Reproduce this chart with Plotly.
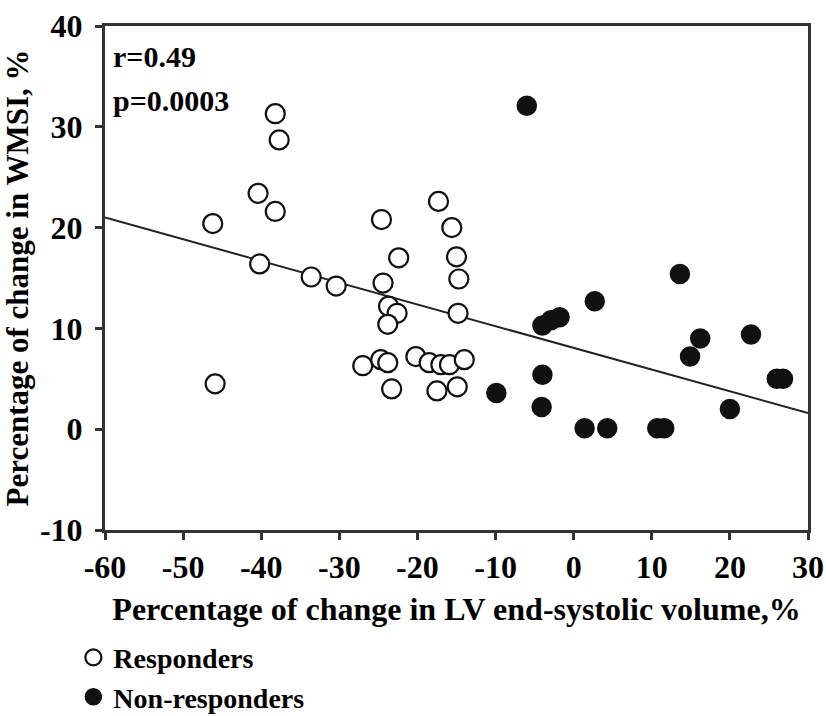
import plotly.graph_objects as go

# Responders (open circles)
resp_x = [-38.2, -37.7, -40.4, -38.2, -46.2, -40.2, -33.6, -30.4, -24.6, -22.4,
          -24.4, -23.7, -22.6, -23.8, -17.3, -15.6, -15.0, -14.7, -14.8, -45.9,
          -27.0, -24.7, -23.8, -23.3, -20.2, -18.5, -17.0, -15.9, -14.0, -17.5, -14.9]
resp_y = [31.3, 28.7, 23.4, 21.6, 20.4, 16.4, 15.1, 14.2, 20.8, 17.0,
          14.5, 12.2, 11.5, 10.4, 22.6, 20.0, 17.1, 14.9, 11.5, 4.5,
          6.3, 6.9, 6.6, 4.0, 7.2, 6.6, 6.4, 6.4, 6.9, 3.8, 4.2]

# Non-responders (filled circles)
non_x = [-6.0, 13.6, 2.7, -4.0, -2.9, -1.8, 16.2, 14.9, 22.7, -4.0,
         -9.9, -4.1, 1.4, 4.3, 10.7, 11.6, 20.0, 26.0, 26.8]
non_y = [32.1, 15.4, 12.7, 10.3, 10.8, 11.1, 9.0, 7.2, 9.4, 5.4,
         3.6, 2.2, 0.1, 0.1, 0.1, 0.1, 2.0, 5.0, 5.0]

# Regression line end points
trend_x = [-60, 30]
trend_y = [21.0, 1.6]

x_ticks = [-60, -50, -40, -30, -20, -10, 0, 10, 20, 30]
y_ticks = [-10, 0, 10, 20, 30, 40]

FONT = "Liberation Serif"

fig = go.Figure()
fig.add_trace(go.Scatter(x=trend_x, y=trend_y, mode="lines",
                         line=dict(color="#222222", width=2), showlegend=False,
                         hoverinfo="skip"))
fig.add_trace(go.Scatter(x=resp_x, y=resp_y, mode="markers", name="Responders",
                         marker=dict(symbol="circle", size=19, color="white",
                                     line=dict(color="#111111", width=2.2))))
fig.add_trace(go.Scatter(x=non_x, y=non_y, mode="markers", name="Non-responders",
                         marker=dict(symbol="circle", size=19, color="#111111",
                                     line=dict(color="#111111", width=1.5))))

axis_common = dict(
    showgrid=False, zeroline=False, showline=True, linecolor="#333333", linewidth=3,
    mirror=True, ticks="outside", ticklen=7, tickwidth=2.5, tickcolor="#333333",
    tickfont=dict(family=FONT, size=32, color="black", weight="bold"),
    automargin=False,
)

fig.update_xaxes(range=[-60, 30], tickvals=x_ticks, ticktext=[str(v) for v in x_ticks],
                 title=dict(text="Percentage of change in LV end-systolic volume,%",
                            font=dict(family=FONT, size=32, color="black", weight="bold"),
                            standoff=14),
                 **axis_common)
fig.update_yaxes(range=[-10, 40], tickvals=y_ticks, ticktext=[str(v) for v in y_ticks],
                 ticklabelstandoff=6,
                 title=dict(text="Percentage of change in WMSI, %",
                            font=dict(family=FONT, size=31, color="black", weight="bold"),
                            standoff=4),
                 **axis_common)

fig.add_annotation(text="r=0.49", xref="paper", yref="paper", x=0.008, y=0.94,
                   xanchor="left", yanchor="middle", showarrow=False,
                   font=dict(family=FONT, size=30, color="black", weight="bold"))
fig.add_annotation(text="p=0.0003", xref="paper", yref="paper", x=0.008, y=0.853,
                   xanchor="left", yanchor="middle", showarrow=False,
                   font=dict(family=FONT, size=30, color="black", weight="bold"))

fig.update_layout(
    width=826, height=716,
    margin=dict(l=105, r=18, t=26, b=186, autoexpand=False),
    paper_bgcolor="white", plot_bgcolor="white",
    showlegend=True,
    legend=dict(x=-0.045, y=-0.292, xanchor="left", yanchor="middle",
                font=dict(family=FONT, size=28, color="black", weight="bold"),
                itemsizing="trace", tracegroupgap=0, bgcolor="rgba(0,0,0,0)"),
)

fig.write_html("out.html")
